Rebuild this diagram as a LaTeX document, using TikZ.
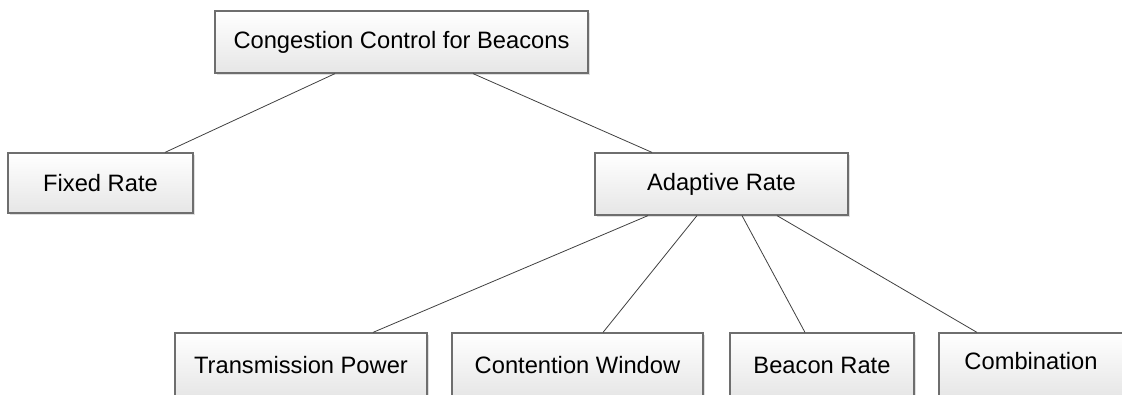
\documentclass[tikz,border=0pt]{standalone}
\usepackage{fontspec}
\setmainfont{Liberation Sans}
\usetikzlibrary{shadows}
\definecolor{boxline}{HTML}{6E6E6E}
\definecolor{boxbot}{HTML}{E6E6E6}
\definecolor{linkcol}{HTML}{404040}
\begin{document}
\begin{tikzpicture}[x=1pt,y=-1pt,
  box/.style={draw=boxline, line width=1.2pt, top color=white, bottom color=boxbot,
    inner sep=0pt, font=\fontsize{23.7}{28}\selectfont,
    drop shadow={shadow xshift=1.5pt, shadow yshift=-1.5pt, fill=gray!50, opacity=0.5}},
  link/.style={draw=linkcol, line width=0.8pt}]
\useasboundingbox (0,0) rectangle (1122,394);
\node[box, minimum width=373pt, minimum height=62pt] (root) at (401.5,42) {Congestion Control for Beacons};
\node[box, minimum width=185pt, minimum height=60pt] (fixed) at (100.5,183) {Fixed Rate};
\node[box, minimum width=253pt, minimum height=62pt] (adapt) at (721.5,184) {Adaptive Rate};
\node[box, minimum width=252pt, minimum height=64pt] (tp) at (301,365) {Transmission Power};
\node[box, minimum width=251pt, minimum height=64pt] (cw) at (577.5,365) {Contention Window};
\node[box, minimum width=184pt, minimum height=64pt] (br) at (822,365) {Beacon Rate};
\node[box, minimum width=184pt, minimum height=64pt, text height=17pt, text depth=5pt] (comb) at (1031,365) {\raisebox{2pt}{Combination}};
\draw[link] ([xshift=-66.5pt]root.south) -- ([xshift=64.5pt]fixed.north);
\draw[link] ([xshift=71.5pt]root.south) -- ([xshift=-69.5pt]adapt.north);
\draw[link] ([xshift=-73.5pt]adapt.south) -- ([xshift=72pt]tp.north);
\draw[link] ([xshift=-24.5pt]adapt.south) -- ([xshift=25.5pt]cw.north);
\draw[link] ([xshift=20.5pt]adapt.south) -- ([xshift=-17pt]br.north);
\draw[link] ([xshift=55.5pt]adapt.south) -- ([xshift=-54pt]comb.north);
\end{tikzpicture}
\end{document}
